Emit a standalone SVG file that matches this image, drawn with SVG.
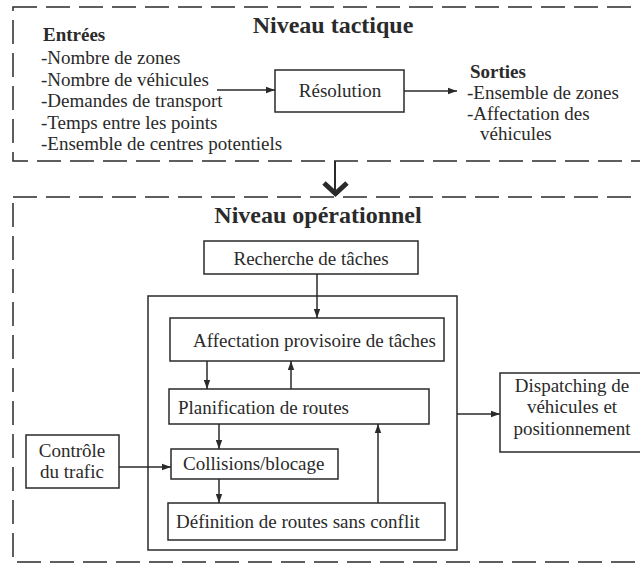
<svg xmlns="http://www.w3.org/2000/svg" width="640" height="563" viewBox="0 0 640 563">
<style>
text{font-family:"Liberation Serif","Times New Roman",serif;font-size:19px;fill:#2a2a2a}
.t{font-weight:bold;font-size:24px}
.b{font-weight:bold}
.m{text-anchor:middle}
.box{fill:#fff;stroke:#2a2a2a;stroke-width:1.5}
.dash{fill:none;stroke:#2a2a2a;stroke-width:1.5;stroke-dasharray:24 9}
.ln{fill:none;stroke:#2a2a2a;stroke-width:1.5}
</style>
<defs>
<marker id="ah" markerWidth="10" markerHeight="8" refX="9" refY="4" orient="auto" markerUnits="userSpaceOnUse">
<path d="M0,0.8 L9,4 L0,7.2 Z" fill="#2a2a2a"/>
</marker>
</defs>
<rect width="640" height="563" fill="#fff"/>

<g id="niveau-tactique">
<rect class="dash" x="13" y="7" width="640" height="154"/>
<text class="t m" x="333" y="33">Niveau tactique</text>
</g>
<g id="entrees">
<text class="b" x="43" y="41">Entrées</text>
<text x="41" y="64">-Nombre de zones</text>
<text x="41" y="86">-Nombre de véhicules</text>
<text x="41" y="107">-Demandes de transport</text>
<text x="41" y="129">-Temps entre les points</text>
<text x="41" y="150">-Ensemble de centres potentiels</text>
</g>
<g id="resolution">
<rect class="box" x="275" y="70" width="129" height="42"/>
<text class="m" x="340" y="97">Résolution</text>
</g>
<g id="sorties">
<text class="b" x="470" y="78">Sorties</text>
<text x="467" y="99">-Ensemble de zones</text>
<text x="467" y="120">-Affectation des</text>
<text x="480" y="140">véhicules</text>
</g>

<g id="niveau-operationnel">
<rect class="dash" x="13" y="197" width="640" height="365"/>
<text class="t m" x="318" y="223">Niveau opérationnel</text>
</g>
<g id="recherche">
<rect class="box" x="204" y="241" width="214" height="33"/>
<text class="m" x="311" y="265">Recherche de tâches</text>
</g>
<g id="conteneur">
<rect class="box" x="148" y="296" width="309" height="254" fill="none"/>
</g>
<g id="affectation">
<rect class="box" x="170" y="318" width="274" height="43"/>
<text x="193" y="347">Affectation provisoire de tâches</text>
</g>
<g id="planification">
<rect class="box" x="169" y="389" width="260" height="35"/>
<text x="178" y="414">Planification de routes</text>
</g>
<g id="collisions">
<rect class="box" x="171" y="449" width="167" height="30"/>
<text x="183" y="470">Collisions/blocage</text>
</g>
<g id="definition">
<rect class="box" x="168" y="503" width="277" height="37"/>
<text x="176" y="528">Définition de routes sans conflit</text>
</g>
<g id="controle">
<rect class="box" x="26" y="435" width="93" height="53"/>
<text class="m" x="72" y="457">Contrôle</text>
<text class="m" x="72" y="478">du trafic</text>
</g>
<g id="dispatching">
<rect class="box" x="500" y="373" width="145" height="79"/>
<text class="m" x="572" y="392">Dispatching de</text>
<text class="m" x="572" y="413">véhicules et</text>
<text class="m" x="572" y="435">positionnement</text>
</g>

<g id="connecteurs">
<line class="ln" x1="217" y1="90" x2="275" y2="90" marker-end="url(#ah)"/>
<line class="ln" x1="404" y1="91" x2="457" y2="91" marker-end="url(#ah)"/>
<line x1="335" y1="161" x2="335" y2="190" stroke="#2a2a2a" stroke-width="2"/>
<polyline points="324,183 335.5,193.5 347,183" fill="none" stroke="#2a2a2a" stroke-width="5"/>
<line class="ln" x1="317" y1="274" x2="317" y2="318" marker-end="url(#ah)"/>
<line class="ln" x1="207" y1="361" x2="207" y2="389" marker-end="url(#ah)"/>
<line class="ln" x1="291" y1="389" x2="291" y2="361" marker-end="url(#ah)"/>
<line class="ln" x1="219" y1="424" x2="219" y2="449" marker-end="url(#ah)"/>
<line class="ln" x1="219" y1="479" x2="219" y2="503" marker-end="url(#ah)"/>
<line class="ln" x1="378" y1="503" x2="378" y2="424" marker-end="url(#ah)"/>
<line class="ln" x1="119" y1="467" x2="171" y2="467" marker-end="url(#ah)"/>
<line class="ln" x1="457" y1="414" x2="500" y2="414" marker-end="url(#ah)"/>
</g>
</svg>
